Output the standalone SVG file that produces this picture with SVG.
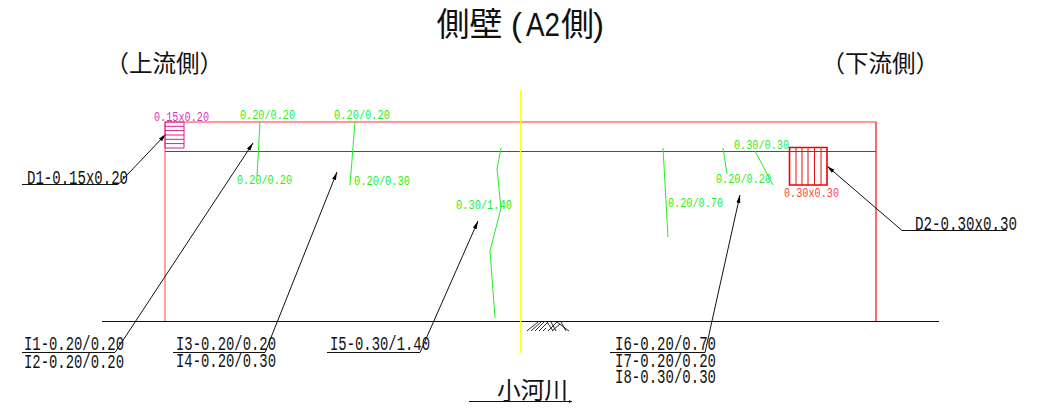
<svg xmlns="http://www.w3.org/2000/svg" width="1044" height="409" viewBox="0 0 1044 409">
<defs>
<marker id="ah" markerUnits="userSpaceOnUse" markerWidth="9" markerHeight="6" refX="8" refY="3" orient="auto"><path d="M0 1L8 3L0 5Z" fill="#000"/></marker>
</defs>
<style>
text{white-space:pre}
.j{font-family:"Noto Sans CJK JP",sans-serif;fill:#111}
.b{font-family:"Liberation Mono",monospace;font-size:20px;fill:#111}
.g{font-family:"Liberation Mono",monospace;font-size:13.5px;fill:#22ee22}
.m{font-family:"Liberation Mono",monospace;font-size:13.5px}
.gl{fill:none;stroke:#22ee22;stroke-width:1}
.c{fill:none;stroke:#111;stroke-width:1}
</style>
<rect width="1044" height="409" fill="#fff"/>
<g id="title">
<text class="j" y="36" font-size="33"><tspan x="436.500">側壁</tspan><tspan x="511" font-family="Liberation Sans">(</tspan><tspan x="526" font-family="Liberation Sans" font-size="34" textLength="34" lengthAdjust="spacingAndGlyphs">A2</tspan><tspan x="561">側</tspan><tspan x="593" font-family="Liberation Sans">)</tspan></text>
<text class="j" x="105.500" y="72" font-size="23.500">（上流側）</text>
<text class="j" x="821.500" y="72" font-size="23.500">（下流側）</text>
</g>
<g id="structure" fill="none">
<path d="M165 321V122H876V321" stroke="#ff7a7a" stroke-width="1.400"/>
<path d="M876 122V321" stroke="#ff3030" stroke-width="1"/>
<path d="M165 151.500H876" stroke="#e81010" stroke-width="1"/>
<path d="M102 321.500H939" stroke="#111" stroke-width="1"/>
<path d="M520.500 90V353" stroke="#ffff20" stroke-width="1.400"/>
<path d="M527 331L538 322M531 331L541 322M535 331L544 322M539 331L548 322M543 331L546 328M547 322L553 331M551 322L556 331M548 331L557 322M552 331L560 324M557 322L569 331M561 322L566 331" stroke="#111" stroke-width="0.900"/>
</g>
<g id="connectors">
<path class="c" marker-end="url(#ah)" d="M22 184.500H118L166 134"/>
<path class="c" marker-end="url(#ah)" d="M22 352.500H115L253 143"/>
<path class="c" marker-end="url(#ah)" d="M173 352.500H265L337 172"/>
<path class="c" marker-end="url(#ah)" d="M327 352.500H420L478 221"/>
<path class="c" marker-end="url(#ah)" d="M610 352.500H705L740 195"/>
<path class="c" marker-end="url(#ah)" d="M1007 230.500H902L827 166"/>
<path class="c" d="M469 401.500H572"/>
<path d="M569 400L572 401.500L569 403Z" fill="#111"/>
<path class="gl" d="M260 122L257 176"/>
<path class="gl" d="M355 122L350 185"/>
<path class="gl" d="M501 148L497 169L501 208L490 251L495 318"/>
<path class="gl" d="M663 148L668 237"/>
<path class="gl" d="M723 148L727 174"/>
<path class="gl" d="M755 151L773 185"/>
</g>
<g id="D1">
<path d="M165 122H184V148H165ZM165 126.300H184M165 130.600H184M165 135H184M165 139.300H184M165 143.600H184" fill="none" stroke="#d81ca0" stroke-width="1"/>
<text class="m" x="154" y="121" textLength="55" lengthAdjust="spacingAndGlyphs" fill="#e030c0">0.15x0.20</text>
<text class="b" x="27" y="184" textLength="101" lengthAdjust="spacingAndGlyphs">D1-0.15x0.20</text>
</g>
<g id="D2">
<path d="M789.500 147.500H827V185H789.500Z" fill="none" stroke="#f00000" stroke-width="1.600"/>
<path d="M796 147V185M802 147V185M808 147V185M814.500 147V185M821 147V185" fill="none" stroke="#e81010" stroke-width="1"/>
<text class="m" x="784" y="197" textLength="55" lengthAdjust="spacingAndGlyphs" fill="#ff4040">0.30x0.30</text>
<text class="b" x="915" y="230" textLength="102" lengthAdjust="spacingAndGlyphs">D2-0.30x0.30</text>
</g>
<g id="I1-I2">
<text class="g" x="240" y="119" textLength="55" lengthAdjust="spacingAndGlyphs">0.20/0.20</text>
<text class="g" x="237" y="184" textLength="55" lengthAdjust="spacingAndGlyphs">0.20/0.20</text>
<text class="b" x="24" y="350" textLength="100" lengthAdjust="spacingAndGlyphs">I1-0.20/0.20</text>
<text class="b" x="24" y="368" textLength="100" lengthAdjust="spacingAndGlyphs">I2-0.20/0.20</text>
</g>
<g id="I3-I4">
<text class="g" x="334" y="119" textLength="56" lengthAdjust="spacingAndGlyphs">0.20/0.20</text>
<text class="g" x="354" y="185" textLength="56" lengthAdjust="spacingAndGlyphs">0.20/0.30</text>
<text class="b" x="176" y="350" textLength="100" lengthAdjust="spacingAndGlyphs">I3-0.20/0.20</text>
<text class="b" x="176" y="367" textLength="100" lengthAdjust="spacingAndGlyphs">I4-0.20/0.30</text>
</g>
<g id="I5">
<text class="g" x="456" y="209" textLength="56" lengthAdjust="spacingAndGlyphs">0.30/1.40</text>
<text class="b" x="330" y="350" textLength="100" lengthAdjust="spacingAndGlyphs">I5-0.30/1.40</text>
</g>
<g id="I6-I8">
<text class="g" x="668" y="207" textLength="55" lengthAdjust="spacingAndGlyphs">0.20/0.70</text>
<text class="g" x="716" y="183" textLength="55" lengthAdjust="spacingAndGlyphs">0.20/0.20</text>
<text class="g" x="734" y="149" textLength="55" lengthAdjust="spacingAndGlyphs">0.30/0.30</text>
<text class="b" x="615" y="350" textLength="101" lengthAdjust="spacingAndGlyphs">I6-0.20/0.70</text>
<text class="b" x="615" y="367" textLength="101" lengthAdjust="spacingAndGlyphs">I7-0.20/0.20</text>
<text class="b" x="615" y="383" textLength="101" lengthAdjust="spacingAndGlyphs">I8-0.30/0.30</text>
</g>
<g id="river">
<text class="j" x="497" y="399" font-size="24" textLength="71" lengthAdjust="spacingAndGlyphs">小河川</text>
</g>
</svg>
